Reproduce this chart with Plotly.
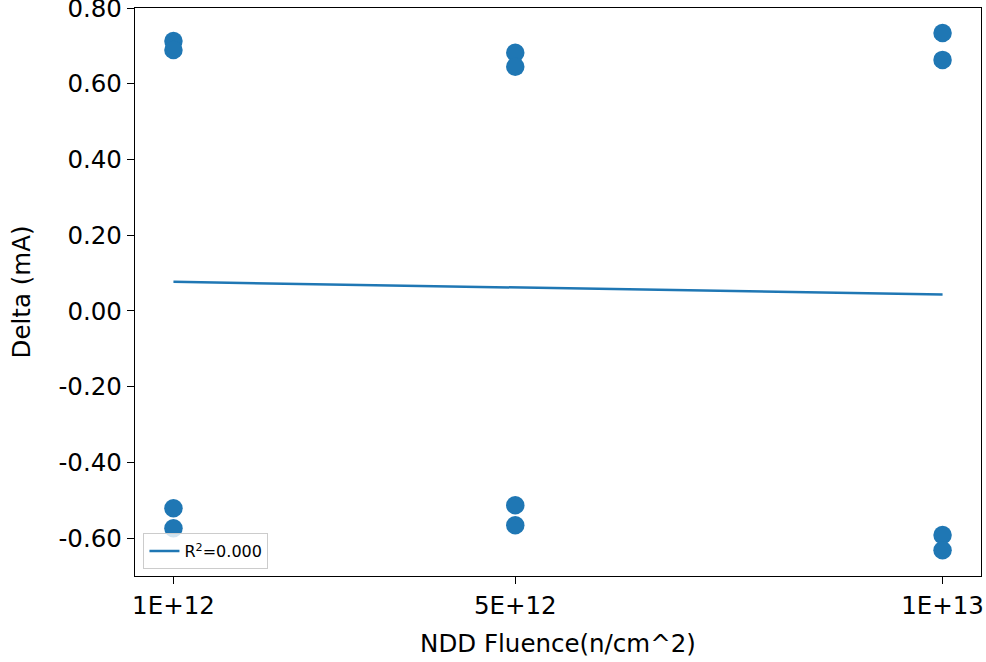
import numpy as np
import plotly.graph_objects as go

fluence = [1e12, 1e12, 1e12, 1e12,
           5e12, 5e12, 5e12, 5e12,
           1e13, 1e13, 1e13, 1e13]
delta = [0.713, 0.689, -0.521, -0.574,
         0.682, 0.645, -0.513, -0.566,
         0.734, 0.663, -0.592, -0.632]
x_ticks = [1e12, 5e12, 1e13]
x_tick_labels = ["1E+12", "5E+12", "1E+13"]
y_ticks = [-0.6, -0.4, -0.2, 0.0, 0.2, 0.4, 0.6, 0.8]
y_tick_labels = ["-0.60", "-0.40", "-0.20", "0.00", "0.20", "0.40", "0.60", "0.80"]

xs = np.array(fluence)
ys = np.array(delta)
slope, intercept = np.polyfit(xs, ys, 1)
fit_x = np.array(sorted(set(fluence)))
fit_y = slope * fit_x + intercept
pred = slope * xs + intercept
r2 = 1 - np.sum((ys - pred) ** 2) / np.sum((ys - ys.mean()) ** 2)

blue = "#1f77b4"
fig = go.Figure()
fig.add_trace(go.Scatter(x=fluence, y=delta, mode="markers",
                         marker=dict(color=blue, size=18.5, line=dict(width=0)),
                         showlegend=False, cliponaxis=False))
fig.add_trace(go.Scatter(x=fit_x, y=fit_y, mode="lines",
                         line=dict(color=blue, width=2.5),
                         name="R<sup>2</sup>=%.3f" % r2))

font = dict(family="DejaVu Sans", size=24.5, color="black")
axis_common = dict(showline=True, linecolor="black", linewidth=1.3, mirror=True,
                   ticks="outside", ticklen=7, tickwidth=1.3, tickcolor="black",
                   showgrid=False, zeroline=False, tickfont=font, automargin=False,
                   ticklabeloverflow="allow")
fig.update_layout(
    width=986, height=662,
    margin=dict(l=135, r=5, t=8, b=86),
    paper_bgcolor="white", plot_bgcolor="white",
    font=font,
    xaxis=dict(range=[0.55e12, 1.045e13], tickvals=x_ticks, ticktext=x_tick_labels,
               title=dict(text="NDD Fluence(n/cm^2)", font=font, standoff=16),
               **axis_common),
    yaxis=dict(range=[-0.70, 0.80], tickvals=y_ticks, ticktext=y_tick_labels,
               title=dict(text="Delta (mA)", font=font, standoff=20),
               **axis_common),
    legend=dict(x=0.01, y=0.012, xanchor="left", yanchor="bottom",
                bgcolor="rgba(255,255,255,0.8)", bordercolor="#cccccc", borderwidth=1,
                font=dict(family="DejaVu Sans", size=16, color="black")),
)
fig.write_html("out.html", config={"displayModeBar": False},
               post_script="document.body.style.margin='0';document.body.style.overflow='hidden';")
